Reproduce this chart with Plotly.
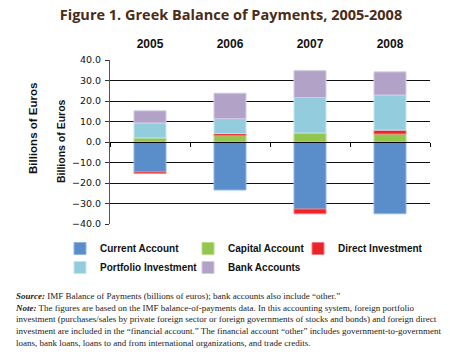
import plotly.graph_objects as go

years = ["2005", "2006", "2007", "2008"]
current_account = [-14.6, -23.4, -32.7, -35.0]
capital_account = [2.0, 3.1, 4.4, 3.9]
direct_investment = [-0.7, 1.0, -2.3, 1.9]
portfolio_investment = [7.3, 7.3, 17.3, 17.1]
bank_accounts = [5.9, 12.4, 13.1, 11.3]
y_ticks = [40, 30, 20, 10, 0, -10, -20, -30, -40]

series = [
    ("Current Account", current_account, "#5a8ecb", "#8fb4e0", "legend"),
    ("Capital Account", capital_account, "#92c64f", "#b8dc8c", "legend2"),
    ("Direct Investment", direct_investment, "#ee2229", "#f57a7e", "legend3"),
    ("Portfolio Investment", portfolio_investment, "#93cddd", "#c4e4ee", "legend"),
    ("Bank Accounts", bank_accounts, "#b3a2c8", "#d4c9e0", "legend2"),
]

fig = go.Figure()
for name, vals, col, lcol, leg in series:
    fig.add_trace(go.Bar(
        x=years, y=vals, name="<b>" + name + "</b>", width=0.4,
        marker=dict(color=col, line=dict(color=lcol, width=1)),
        xaxis="x", yaxis="y", legend=leg,
    ))

# invisible trace to carry the top category labels
fig.add_trace(go.Scatter(x=years, y=[0] * len(years), xaxis="x2", yaxis="y",
                         mode="markers", marker=dict(opacity=0), showlegend=False,
                         hoverinfo="skip"))

# page has an 8px body margin, so the figure is 442x348 and offsets are shifted
FW, FH = 442, 348
L, T = 102, 52
W, H = 320, 164
R = FW - L - W
B = FH - T - H

narrow = "Liberation Sans Narrow, Arial Narrow, Liberation Sans, Arial"
leg_font = dict(family="Liberation Sans, Arial", size=10, color="#111111")


def legend_at(text_x):
    return dict(
        orientation="v", x=(text_x - 40 - L) / W, xanchor="left",
        y=-10 / H, yanchor="top", font=leg_font,
        traceorder="normal", itemwidth=30, bgcolor="rgba(0,0,0,0)",
    )


fig.update_layout(
    width=FW, height=FH,
    margin=dict(l=L, r=R, t=T, b=B, autoexpand=False),
    paper_bgcolor="white", plot_bgcolor="white",
    barmode="relative",
    showlegend=True,
    title=dict(
        text="<b>Figure 1. Greek Balance of Payments, 2005-2008</b>",
        font=dict(family="Open Sans, Noto Sans", size=14.5, color="#4a2c17"),
        x=223 / FW, xanchor="center", y=1, yanchor="top",
        pad=dict(t=2),
    ),
    xaxis=dict(
        type="category", anchor="free", position=0.5, automargin=False,
        showline=True, linecolor="black", linewidth=1,
        ticks="outside", tickson="boundaries", ticklen=4, tickcolor="black",
        showticklabels=False, showgrid=False, zeroline=False,
        range=[-0.5, 3.5],
    ),
    xaxis2=dict(
        type="category", overlaying="x", side="top", anchor="y",
        matches="x", showline=False, showgrid=False, zeroline=False,
        automargin=False, ticklabelstandoff=9,
        ticks="", tickfont=dict(family="Liberation Sans, Arial", size=12, color="#111111"),
        tickprefix="<b>", ticksuffix="</b>",
    ),
    yaxis=dict(
        range=[-40, 40], tickvals=y_ticks, tickformat=".1f",
        tickprefix="<b>", ticksuffix="</b>",
        tickfont=dict(family="DejaVu Sans, Verdana", size=9.5, color="#111111"),
        automargin=False, ticklabelstandoff=2,
        showgrid=True, gridcolor="#111111", gridwidth=1.3,
        zeroline=False,
        showline=True, linecolor="#555555", linewidth=1,
        ticks="outside", ticklen=4, tickcolor="#333333",
        domain=[0, 1],
    ),
    legend=legend_at(92),
    legend2=legend_at(220),
    legend3=legend_at(330),
)

fig.add_annotation(
    text="<b>Billions of Euros</b>", textangle=-90,
    x=(24.5 - L) / W, xref="paper", y=(T + H - 120.5) / H, yref="paper",
    xanchor="center", yanchor="middle", showarrow=False,
    font=dict(family=narrow, size=11.5, color="#111111"),
)
fig.add_annotation(
    text="<b>Billions of Euros</b>", textangle=-90,
    x=(53 - L) / W, xref="paper", y=(T + H - 133) / H, yref="paper",
    xanchor="center", yanchor="middle", showarrow=False,
    font=dict(family=narrow, size=10.5, color="#111111"),
)

note_lines = [
    "<b><i>Source:</i></b> IMF Balance of Payments (billions of euros); bank accounts also include \u201cother.\u201d",
    "<b><i>Note:</i></b> The figures are based on the IMF balance-of-payments data. In this accounting system, foreign portfolio",
    "investment (purchases/sales by private foreign sector or foreign governments of stocks and bonds) and foreign direct",
    "investment are included in the \u201cfinancial account.\u201d The financial account \u201cother\u201d includes government-to-government",
    "loans, bank loans, loans to and from international organizations, and trade credits.",
]
fig.add_annotation(
    text="<br>".join(note_lines), align="left",
    xref="paper", yref="paper", x=(5 - L) / W, y=(T + H - 281) / H,
    xanchor="left", yanchor="top", showarrow=False,
    font=dict(family="Liberation Serif, DejaVu Serif", size=9, color="#222222"),
)

fig.write_html("out.html")
